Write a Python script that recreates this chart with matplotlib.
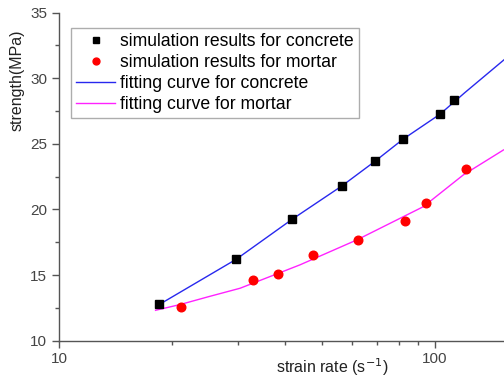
import matplotlib
matplotlib.use("Agg")
import matplotlib.pyplot as plt
from matplotlib.ticker import FixedLocator, NullFormatter, MultipleLocator

plt.rcParams['font.family'] = ['Liberation Sans', 'DejaVu Sans']

# simulation results
concrete_rate = [18.5, 29.6, 41.7, 56.6, 69.1, 82.2, 103.1, 112.1]
concrete_strength = [12.79, 16.22, 19.27, 21.76, 23.67, 25.37, 27.28, 28.37]
mortar_rate = [21.1, 32.9, 38.2, 47.3, 62.3, 83.2, 94.5, 121.1]
mortar_strength = [12.54, 14.65, 15.11, 16.50, 17.70, 19.12, 20.49, 23.08]

# fitting curves
concrete_fit_rate = [18.1, 29.6, 41.7, 56.6, 69.1, 82.2, 103.0, 120.0, 152.5]
concrete_fit_strength = [12.6, 16.2, 19.25, 21.8, 23.65, 25.35, 27.25, 28.9, 31.4]
mortar_fit_rate = [18.06, 21.0, 25.0, 30.3, 43.7, 61.9, 93.1, 118.9, 152.0]
mortar_fit_strength = [12.31, 12.75, 13.35, 13.99, 15.77, 17.67, 20.21, 22.63, 24.53]

fig = plt.figure(figsize=(5.04, 3.81), dpi=100)
ax = fig.add_axes([0.117, 0.106, 0.883, 0.861])

ax.plot(concrete_rate, concrete_strength, 's', color='black', markersize=5.5,
        label='simulation results for concrete', zorder=3)
ax.plot(mortar_rate, mortar_strength, 'o', color='red', markersize=6.2,
        label='simulation results for mortar', zorder=3)
ax.plot(concrete_fit_rate, concrete_fit_strength, '-', color='#2828ee', lw=1,
        label='fitting curve for concrete')
ax.plot(mortar_fit_rate, mortar_fit_strength, '-', color='#ff22ff', lw=1,
        label='fitting curve for mortar')

ax.set_xscale('log')
ax.set_xlim(10, 152.5)
ax.set_ylim(10, 35)

ax.xaxis.set_major_locator(FixedLocator([10, 100]))
ax.xaxis.set_minor_locator(FixedLocator([20, 30, 40, 50, 60, 70, 80, 90]))
ax.xaxis.set_minor_formatter(NullFormatter())
ax.set_xticklabels(['10', '100'])
ax.yaxis.set_major_locator(MultipleLocator(5))
ax.yaxis.set_minor_locator(MultipleLocator(2.5))

for s in ['top', 'right']:
    ax.spines[s].set_visible(False)
for s in ['left', 'bottom']:
    ax.spines[s].set_color('#555555')
    ax.spines[s].set_linewidth(1.0)

ax.tick_params(which='major', length=5, width=1, color='#555555',
               labelsize=11, labelcolor='#444444')
ax.tick_params(which='minor', length=3, width=1, color='#555555')

ax.set_xlabel('strain rate (s$^{-1}$)', fontsize=11.5, color='#222222')
ax.set_ylabel('strength(MPa)', fontsize=11.5, color='#222222')
ax.xaxis.set_label_coords(0.613, -0.047)
ax.yaxis.set_label_coords(-0.077, 0.795)

leg = ax.legend(loc='upper left', bbox_to_anchor=(0.027, 0.953), fontsize=12.7,
                frameon=True, fancybox=False, borderpad=0.3, labelspacing=0.22,
                handlelength=2.2, handletextpad=0.3, borderaxespad=0,
                markerscale=0.8)
leg.get_frame().set_edgecolor('#999999')
leg.get_frame().set_linewidth(1)

fig.savefig('out.png', dpi=100)
